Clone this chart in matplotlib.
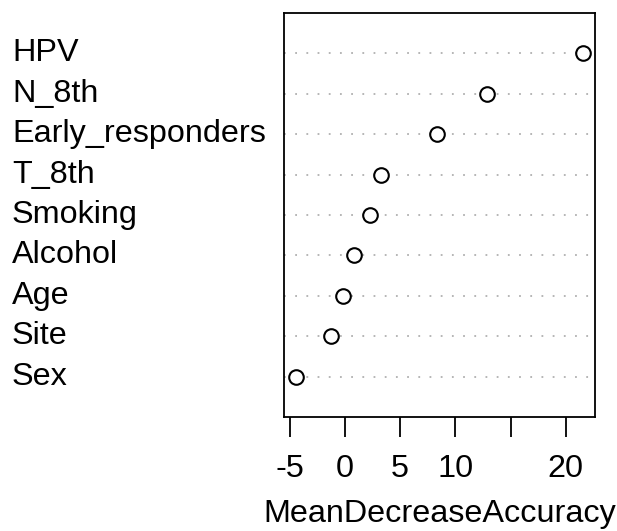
import numpy as np
import matplotlib
matplotlib.use('Agg')
import matplotlib.pyplot as plt
import matplotlib.transforms as mtransforms

# variable importance (top to bottom as shown)
variables = ['HPV', 'N_8th', 'Early_responders', 'T_8th', 'Smoking',
             'Alcohol', 'Age', 'Site', 'Sex']
mda = [21.6, 12.85, 8.3, 3.3, 2.27, 0.82, -0.18, -1.24, -4.48]
xticks = [-5, 0, 5, 10, 15, 20]
xticklabels = ['-5', '0', '5', '10', '', '20']

plt.rcParams['font.family'] = ['Liberation Sans', 'DejaVu Sans']
fs = 23.3

fig = plt.figure(figsize=(6.17, 5.31), dpi=100, facecolor='w')
ax = fig.add_axes([284 / 617, (531 - 417) / 531, 311 / 617, 404 / 531])

n = len(variables)
ypos = np.arange(n, 0, -1)
for y in ypos:
    ax.axhline(y, color='#b0b0b0', lw=1.3, ls=(0, (1, 5.2)), zorder=1)
ax.plot(mda, ypos, 'o', ms=10.5, mfc='w', mec='k', mew=1.5, ls='none', zorder=3)

# R style 4% extension
lo, hi = min(mda), max(mda)
ext = 0.04 * (hi - lo)
ax.set_xlim(lo - ext, hi + ext)
ax.set_ylim(0, n + 1)
ax.set_yticks([])
ax.set_xticks(xticks)
ax.set_xticklabels(xticklabels, fontsize=fs)
ax.tick_params(axis='x', length=14.5, width=1.3, pad=12)
for s in ax.spines.values():
    s.set_linewidth(1.3)

trans = mtransforms.blended_transform_factory(fig.transFigure, ax.transData)
for lab, y in zip(variables, ypos):
    ax.text(12 / 617, y, lab, transform=trans, ha='left', va='center',
            fontsize=fs, clip_on=False)

ax.set_xlabel('MeanDecreaseAccuracy', fontsize=fs, labelpad=11)

plt.savefig('out.png', dpi=100)
